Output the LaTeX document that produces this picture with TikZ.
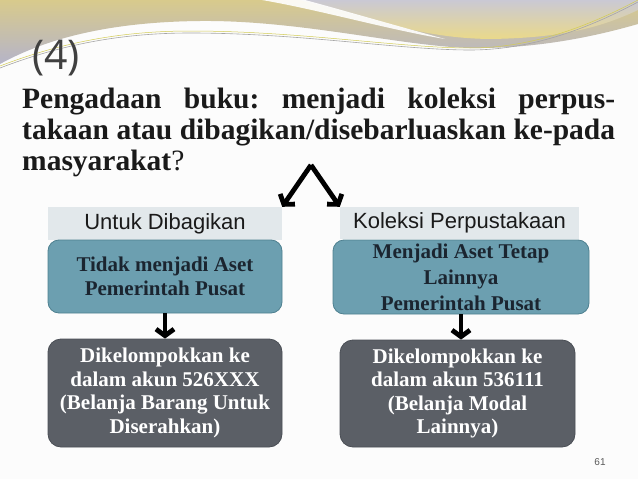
\documentclass[tikz,border=0pt]{standalone}
\usepackage{fontspec}
\setmainfont{Liberation Serif}
\setsansfont{Liberation Sans}
\newfontfamily\titlefont{Open Sans}
\usetikzlibrary{arrows.meta}
\definecolor{tealfill}{HTML}{6C9FB0}
\definecolor{tealedge}{HTML}{4E8090}
\definecolor{darkfill}{HTML}{5B5F66}
\definecolor{darkedge}{HTML}{4A4E55}
\definecolor{hdrfill}{HTML}{E2E8EB}
\definecolor{qtext}{HTML}{1A1A1A}
\definecolor{boxtext}{HTML}{1B2530}
\definecolor{gold}{HTML}{D8CA8C}
\definecolor{lav}{HTML}{B5B4C9}
\definecolor{topgray}{HTML}{CAC9D4}
\definecolor{yel}{HTML}{EAD98A}
\tikzset{
  hdrbox/.style={fill=hdrfill, draw=none, inner sep=0pt, font=\sffamily\fontsize{22}{24}\selectfont, text=qtext},
  tealbox/.style={fill=tealfill, draw=tealedge, line width=0.8pt, rounded corners=11pt, inner sep=0pt, align=center, text=boxtext, font=\bfseries\fontsize{21}{23.5}\selectfont},
  darkbox/.style={fill=darkfill, draw=darkedge, line width=0.8pt, rounded corners=13pt, inner sep=0pt, align=center, text=white, font=\bfseries\fontsize{21}{23.5}\selectfont},
  arr/.style={draw=black, line width=4.8pt, -{Straight Barb[length=6.5pt,width=18pt]}},
}
\begin{document}
\begin{tikzpicture}[x=1pt,y=-1pt]
\fill[white!98!gray] (0,0) rectangle (638,479);
\useasboundingbox (0,0) rectangle (638,479);
% decorative swoosh
\shade[top color=gold, bottom color=lav]
  (0,0) -- (638,0) -- (638,24) .. controls (600,35) and (540,49) .. (470,48)
  .. controls (400,46) and (300,20) .. (200,21)
  .. controls (100,22) and (40,42) .. (0,64) -- cycle;
\shade[top color=topgray, bottom color=yel]
  (300,0) -- (638,0) -- (638,10) .. controls (600,28) and (560,38) .. (490,39)
  .. controls (420,38) and (380,20) .. (300,0) -- cycle;
\fill[white, opacity=0.9]
  (262,0) .. controls (320,10) and (390,30) .. (445,39)
  .. controls (390,24) and (335,8) .. (305,0) -- cycle;
\draw[gray!70, line width=0.6pt]
  (0,68) .. controls (60,45) and (120,33) .. (190,33)
  .. controls (300,33) and (400,50) .. (470,50)
  .. controls (540,50) and (600,22) .. (638,2);
\draw[yellow!60!gray, line width=0.5pt]
  (0,66) .. controls (60,43) and (120,31) .. (190,31)
  .. controls (300,31) and (400,48) .. (470,48)
  .. controls (540,48) and (600,20) .. (638,0);
% title
\node[anchor=base west, inner sep=0pt, text=black!75, font=\titlefont\fontsize{41}{44}\selectfont] (title) at (32,69) {(4)};
% question
\node[anchor=base west, inner sep=0pt, text=qtext, font=\bfseries\fontsize{29.5}{31}\selectfont] (question) at (22,108)
  {\parbox[t]{593pt}{\frenchspacing\hyphenpenalty=10000\exhyphenpenalty=10000 Pengadaan buku: menjadi koleksi perpus-\linebreak takaan atau dibagikan/disebarluaskan ke-pada\linebreak masyarakat{\mdseries ?}}};
\coordinate (apex) at (311,165);
% headers
\node[hdrbox, minimum width=234pt, minimum height=33pt] (hdrL) at (165,223.5) {Untuk Dibagikan};
\node[hdrbox, minimum width=239pt, minimum height=32pt] (hdrR) at (459.5,223) {Koleksi Perpustakaan};
% teal boxes
\node[tealbox, minimum width=234pt, minimum height=73pt] (tealL) at (165,276.5) {Tidak menjadi Aset\\Pemerintah Pusat};
\node[tealbox, minimum width=256pt, minimum height=74pt, font=\bfseries\fontsize{21}{26}\selectfont] (tealR) at (461,277) {Menjadi Aset Tetap\\Lainnya\\Pemerintah Pusat};
% dark boxes
\node[darkbox, minimum width=234pt, minimum height=108pt] (darkL) at (165,393) {Dikelompokkan ke\\dalam akun 526XXX\\(Belanja Barang Untuk\\Diserahkan)};
\node[darkbox, minimum width=235pt, minimum height=107pt] (darkR) at (457.5,393.5) {Dikelompokkan ke\\dalam akun 536111\\(Belanja Modal\\Lainnya)};
% arrows
\draw[arr] (apex) -- (hdrL.north east);
\draw[arr] (apex) -- (hdrR.north west);
\draw[arr] (tealL.south) -- (darkL.north);
\draw[arr] (tealR.south) -- (tealR.south |- darkR.north);
% page number
\node[inner sep=0pt, text=black!65, font=\sffamily\fontsize{10}{12}\selectfont] (pnum) at (600,462) {61};
\end{tikzpicture}
\end{document}
